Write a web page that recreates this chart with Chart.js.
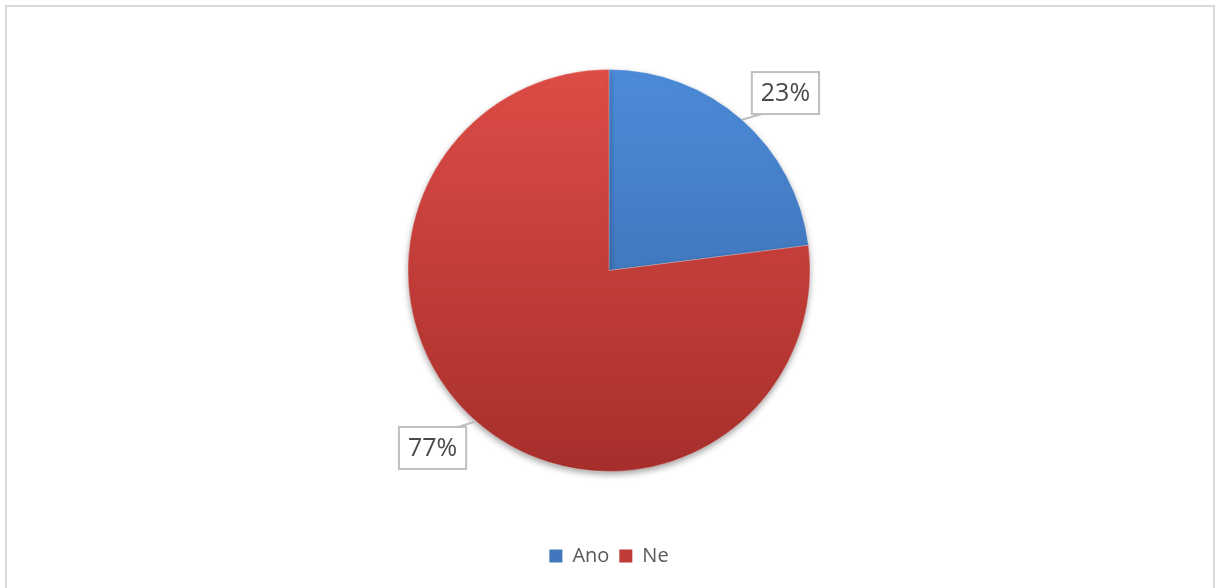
<!DOCTYPE html>
<html>
<head>
<meta charset="utf-8">
<script src="https://cdn.jsdelivr.net/npm/chart.js@4/dist/chart.umd.min.js"></script>
<style>
  html, body { margin: 0; padding: 0; background: #fff; overflow: hidden; }
  #frame {
    position: absolute; left: 5px; top: 5px; width: 1210px; height: 600px;
    border: 2px solid #d9d9d9; box-sizing: border-box;
  }
  #wrap { position: absolute; left: 0; top: 0; width: 1221px; height: 588px; }
</style>
</head>
<body>
<div id="frame"></div>
<div id="wrap"><canvas id="pieChart" width="1221" height="588"></canvas></div>
<script>
const categories = ["Ano", "Ne"];
const values = [23, 77];
const percentLabels = ["23%", "77%"];

// top/bottom colours for the slice shading
const topColors = ["#4c8bd8", "#de4c47"];
const bottomColors = ["#3766a6", "#a62f2b"];
const legendColors = ["#4277bd", "#bf3b37"];

const shade = (ctx) => {
  const chart = ctx.chart;
  const area = chart.chartArea;
  if (!area) return topColors[ctx.dataIndex];
  const meta = chart.getDatasetMeta(0);
  const arc = meta.data[ctx.dataIndex];
  const cy = arc && arc.y ? arc.y : (area.top + area.bottom) / 2;
  const r = arc && arc.outerRadius ? arc.outerRadius : 200;
  const g = chart.ctx.createLinearGradient(0, cy - r, 0, cy + r);
  g.addColorStop(0, topColors[ctx.dataIndex]);
  g.addColorStop(1, bottomColors[ctx.dataIndex]);
  return g;
};

// soft shadow under the pie
const shadowPlugin = {
  id: "pieShadow",
  beforeDatasetDraw(chart) {
    const c = chart.ctx;
    c.save();
    c.shadowColor = "rgba(0,0,0,0.35)";
    c.shadowBlur = 6;
    c.shadowOffsetY = 3;
  },
  afterDatasetDraw(chart) {
    chart.ctx.restore();
  }
};

// boxed percentage labels with leader lines
const boxLabels = {
  id: "boxLabels",
  afterDatasetsDraw(chart) {
    const c = chart.ctx;
    const meta = chart.getDatasetMeta(0);
    meta.data.forEach((arc, i) => {
      const mid = (arc.startAngle + arc.endAngle) / 2;
      const r = arc.outerRadius;
      const ex = arc.x + Math.cos(mid) * r;
      const ey = arc.y + Math.sin(mid) * r;
      const a2 = mid + 0.06;
      const bx = arc.x + Math.cos(a2) * r * 1.245;
      const by = arc.y + Math.sin(a2) * r * 1.245;
      c.save();
      c.font = "25px 'Open Sans', sans-serif";
      const tw = c.measureText(percentLabels[i]).width;
      const w = tw + 18, h = 42;
      const left = bx - w / 2, top = by - h / 2;
      // leader line towards the box corner facing the slice
      const lx = Math.cos(mid) > 0 ? left + 10 : left + w - 8;
      const ly = Math.sin(mid) < 0 ? top + h : top;
      c.strokeStyle = "#bfbfbf";
      c.lineWidth = 2;
      c.beginPath();
      c.moveTo(ex, ey);
      c.lineTo(lx, ly);
      c.stroke();
      c.fillStyle = "#fff";
      c.fillRect(left, top, w, h);
      c.strokeRect(left, top, w, h);
      c.fillStyle = "#4a4a4a";
      c.textAlign = "center";
      c.textBaseline = "middle";
      c.fillText(percentLabels[i], bx, by + 1);
      c.restore();
    });
  }
};

new Chart(document.getElementById("pieChart"), {
  type: "pie",
  data: {
    labels: categories,
    datasets: [{
      data: values,
      backgroundColor: shade,
      borderColor: "rgba(255,255,255,0.25)",
      borderWidth: 1,
      radius: 201
    }]
  },
  options: {
    responsive: false,
    animation: false,
    devicePixelRatio: 1,
    layout: { padding: { top: 5, bottom: 12, left: 0, right: 3 } },
    plugins: {
      tooltip: { enabled: false },
      legend: {
        position: "bottom",
        labels: {
          color: "#595959",
          font: { size: 20, family: "'Open Sans', sans-serif" },
          boxWidth: 13,
          boxHeight: 13,
          padding: 10,
          generateLabels: (chart) => categories.map((name, i) => ({
            text: name,
            fillStyle: legendColors[i],
            strokeStyle: legendColors[i],
            lineWidth: 0,
            fontColor: "#595959",
            index: i,
            hidden: false
          }))
        }
      }
    }
  },
  plugins: [shadowPlugin, boxLabels]
});
</script>
</body>
</html>
